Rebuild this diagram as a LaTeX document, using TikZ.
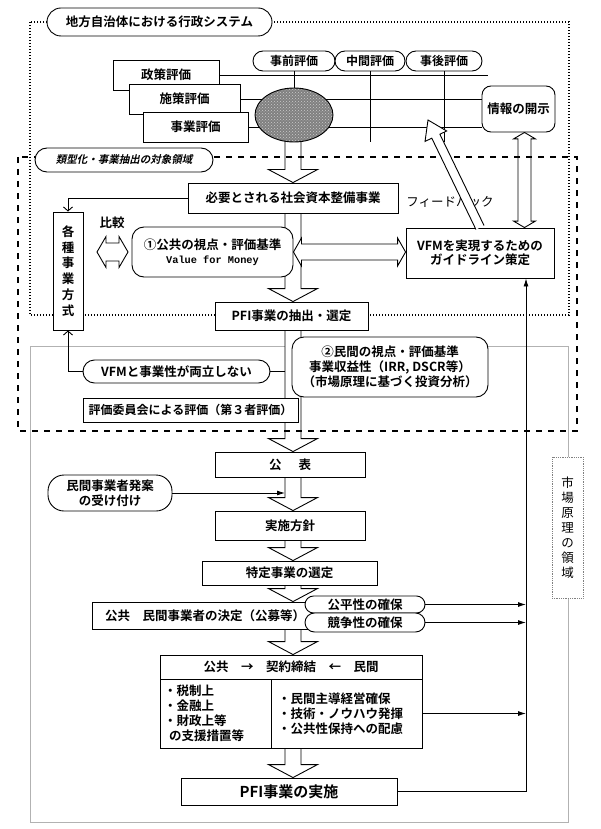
\documentclass[tikz,border=0pt]{standalone}
\usepackage{fontspec}
\setmainfont{Noto Sans CJK JP}[BoldFont={Noto Sans CJK JP Bold}]
\setmonofont{Liberation Mono}
\newfontfamily\slfont{Noto Sans CJK JP Bold}[FakeSlant=0.22]
\usetikzlibrary{shapes.geometric,arrows.meta,calc,patterns}
\pgfdeclarelayer{back}
\pgfdeclarelayer{mid}
\pgfdeclarelayer{dash}
\pgfsetlayers{back,mid,dash,main}
\tikzset{
  bx/.style={draw, fill=white, line width=0.9pt, inner sep=0pt, align=center,
    font=\bfseries\fontsize{12.5}{15}\selectfont},
  rbx/.style={bx, rounded corners=#1},
  rbx/.default=10pt,
  hollow/.style={fill=white, draw, line width=0.9pt, line join=miter},
  conn/.style={draw, line width=0.9pt},
  tipf/.style={-{Latex[length=8pt,width=5pt]}},
  tipo/.style={-{Straight Barb[length=4pt,width=9pt]}},
  dotbox/.style={draw, line width=1.1pt, dash pattern=on 1.1pt off 1.9pt},
  dashbox/.style={draw, line width=2pt, dash pattern=on 6pt off 6pt},
}
\newcommand\HollowDown[2]{%
  \filldraw[hollow] let \p3=(col), \p1=(#1), \p2=(#2) in
   (\x3-8pt,\y1) -- (\x3-8pt,\y2+13pt) -- (\x3-24.5pt,\y2+13pt) -- (\x3,\y2)
   -- (\x3+24.5pt,\y2+13pt) -- (\x3+8pt,\y2+13pt) -- (\x3+8pt,\y1);}
\begin{document}
\begin{tikzpicture}[x=1pt,y=-1pt]
\useasboundingbox (0,0) rectangle (600,829);
\coordinate (col) at (293,0);
\coordinate (shaftL) at (285,0);
\coordinate (bus) at (526,0);
\coordinate (dvx) at (524.5,0);
\coordinate (l1end) at (488,75);
\coordinate (ha1) at (97,252);
\coordinate (ha2) at (128,252);
\coordinate (fbt) at (428,120);

% ---------- nodes ----------
\node[rbx=14pt, minimum width=225pt, minimum height=28pt] (title) at (159.5,22) {地方自治体における行政システム};
\node[bx, minimum width=106pt, minimum height=30pt] (seisaku) at (166,75) {政策評価};
\node[bx, minimum width=111pt, minimum height=30pt] (shisaku) at (184.5,99) {施策評価};
\node[bx, minimum width=105pt, minimum height=30pt] (jigyo) at (195.5,127) {事業評価};
\node[rbx=10pt, minimum width=82pt, minimum height=20pt, font=\bfseries\fontsize{12}{14}\selectfont] (jizen) at (294,61) {事前評価};
\node[rbx=10pt, minimum width=70pt, minimum height=20pt, font=\bfseries\fontsize{12}{14}\selectfont] (chukan) at (370,61) {中間評価};
\node[rbx=10pt, minimum width=76pt, minimum height=20pt, font=\bfseries\fontsize{12}{14}\selectfont] (jigo) at (444,61) {事後評価};
\node[ellipse, draw, fill=black!50, line width=0.9pt, minimum width=78pt, minimum height=54pt, inner sep=0pt] (ell) at (294,115) {};
\fill[pattern=crosshatch dots, pattern color=white!80!black] (ell.center) ellipse [x radius=38pt, y radius=26pt];
\node[rbx=9pt, minimum width=73pt, minimum height=46pt] (joho) at (518.5,109) {情報の開示};

\node[bx, minimum width=210pt, minimum height=30pt] (need) at (293,198) {必要とされる社会資本整備事業};
\node[bx, minimum width=30pt, minimum height=118pt, font=\bfseries\fontsize{12.5}{15.8}\selectfont] (kakushu) at (68,271) {各\\種\\事\\業\\方\\式};
\node[font=\bfseries\fontsize{12.5}{15}\selectfont, inner sep=0pt] (hikaku) at (112,223) {比較};
\node[rbx=12pt, minimum width=161pt, minimum height=50pt, font=\bfseries\fontsize{12.5}{14}\selectfont] (kokyo1) at (212.5,252) {①公共の視点・評価基準\\{\ttfamily\bfseries\fontsize{10.3}{12}\selectfont Value for Money}};
\node[bx, minimum width=148pt, minimum height=50pt, font=\bfseries\fontsize{12.5}{14.5}\selectfont] (vfm) at (480,253) {VFMを実現するための\\ガイドライン策定};
\node[font=\fontsize{12.5}{15}\selectfont, inner sep=0pt] (fb) at (450,202) {フィードバック};
\node[bx, minimum width=153pt, minimum height=28pt] (pfi) at (291.5,316) {PFI事業の抽出・選定};
\node[rbx=12pt, minimum width=196pt, minimum height=60pt] (kokyo2) at (390,367) {②民間の視点・評価基準\\事業収益性（IRR, DSCR等）\\（市場原理に基づく投資分析）};
\node[rbx=11.5pt, minimum width=187pt, minimum height=23pt] (ryoritsu) at (176.5,371.5) {VFMと事業性が両立しない};
\node[bx, minimum width=215pt, minimum height=24pt, font=\bfseries\fontsize{12}{14}\selectfont] (hyoka) at (190.5,410) {評価委員会による評価（第３者評価）};
\node[rbx=12pt, minimum width=178pt, minimum height=24pt, font=\slfont\fontsize{10.5}{12}\selectfont] (ryokei) at (124,160) {類型化・事業抽出の対象領域};

\node[bx, minimum width=150pt, minimum height=25pt] (kohyo) at (290,464.5) {公\hspace{17pt}表};
\node[rbx=16pt, minimum width=124pt, minimum height=36pt] (minkan) at (110,493) {民間事業者発案\\の受け付け};
\node[bx, minimum width=150pt, minimum height=29pt] (hoshin) at (290,525.5) {実施方針};
\node[bx, minimum width=175pt, minimum height=24pt] (tokutei) at (289.5,573) {特定事業の選定};
\node[bx, minimum width=226pt, minimum height=27pt] (kettei) at (205,615.5) {公共　民間事業者の決定（公募等）};
\node[rbx=8.5pt, minimum width=120pt, minimum height=17pt] (kohei) at (365,604.5) {公平性の確保};
\node[rbx=9.5pt, minimum width=120pt, minimum height=19pt] (kyoso) at (365,622.5) {競争性の確保};
\node[bx, minimum width=262pt, minimum height=24pt] (chead) at (291,667) {公共　→　契約締結　←　民間};
\node[bx, minimum width=111pt, minimum height=69pt, text width=103pt, align=left] (cleft) at (215.5,713.5) {・税制上\\・金融上\\・財政上等\\\hspace*{5pt}の支援措置等};
\node[bx, minimum width=151pt, minimum height=69pt, text width=137pt, align=left] (cright) at (346.5,713.5) {・民間主導経営確保\\・技術・ノウハウ発揮\\・公共性保持への配慮};
\node[bx, minimum width=216pt, minimum height=27pt, font=\bfseries\fontsize{15}{17}\selectfont] (pfiexec) at (289,791.5) {PFI事業の実施};
\node[draw=gray, densely dotted, fill=white, line width=0.8pt, minimum width=31pt, minimum height=141pt, inner sep=0pt, align=center, font=\fontsize{12.5}{15}\selectfont] (shijo) at (567.5,527.5) {市\\場\\原\\理\\の\\領\\域};

% ---------- background frames and lines ----------
\begin{pgfonlayer}{back}
  \draw[gray!60, line width=1pt] (30,346) rectangle (568,822);
  \draw[dotbox] (30,22) rectangle (569,315);
  \draw[conn] (seisaku.east) -- (l1end);
  \draw[conn] (shisaku.east) -- (shisaku.east -| joho.west);
  \draw[conn] (jigyo.east) -- (jigyo.east -| joho.west);
  \draw[conn] (jizen.south) -- (jizen.south |- ell.center);
  \draw[conn] (chukan.south) -- (chukan.south |- jigyo.south);
  \draw[conn] (jigo.south) -- (jigo.south |- jigyo.south);
\end{pgfonlayer}

% ---------- hollow arrows ----------
\begin{pgfonlayer}{mid}
  \HollowDown{ell.center}{need.north}
  \HollowDown{need.south}{pfi.north}
  \HollowDown{pfi.south}{kohyo.north}
  \HollowDown{kohyo.south}{hoshin.north}
  \HollowDown{hoshin.south}{tokutei.north}
  \HollowDown{tokutei.south}{kettei.north}
  \HollowDown{kettei.south}{chead.north}
  \HollowDown{cleft.south}{pfiexec.north}
  \filldraw[hollow] let \p3=(dvx), \p1=(joho.south), \p2=(vfm.north) in
    (\x3,\y1) -- (\x3+11pt,\y1-6.5pt) -- (\x3+6.5pt,\y1-6.5pt) -- (\x3+6.5pt,\y2+6.5pt)
    -- (\x3+11pt,\y2+6.5pt) -- (\x3,\y2) -- (\x3-11pt,\y2+6.5pt) -- (\x3-6.5pt,\y2+6.5pt)
    -- (\x3-6.5pt,\y1-6.5pt) -- (\x3-11pt,\y1-6.5pt) -- cycle;
  \filldraw[hollow] let \p1=(ha1), \p2=(ha2) in
    (\x1,\y1) -- (\x1+9pt,\y1+15.5pt) -- (\x1+9pt,\y1+9pt) -- (\x2-9pt,\y1+9pt)
    -- (\x2-9pt,\y1+15.5pt) -- (\x2,\y1) -- (\x2-9pt,\y1-15.5pt) -- (\x2-9pt,\y1-9pt)
    -- (\x1+9pt,\y1-9pt) -- (\x1+9pt,\y1-15.5pt) -- cycle;
\end{pgfonlayer}

\begin{pgfonlayer}{dash}
  \draw[dashbox] (18,157) rectangle (577,431);
\end{pgfonlayer}

% ---------- arrows on top ----------
\filldraw[hollow] let \p1=(kokyo1.east), \p2=(vfm.west) in
  (\x1,\y1) -- (\x1+8pt,\y1+14pt) -- (\x1+8pt,\y1+8pt) -- (\x2-8pt,\y1+8pt)
  -- (\x2-8pt,\y1+14pt) -- (\x2,\y1) -- (\x2-8pt,\y1-14pt) -- (\x2-8pt,\y1-8pt)
  -- (\x1+8pt,\y1-8pt) -- (\x1+8pt,\y1-14pt) -- cycle;
\coordinate (fbb) at ($(fbt)!18pt!(vfm.north)$);
\filldraw[hollow]
  ($(vfm.north)!4.5pt!90:(fbt)$) -- ($(fbb)!4.5pt!-90:(vfm.north)$)
  -- ($(fbb)!12pt!-90:(vfm.north)$) -- (fbt) -- ($(fbb)!12pt!90:(vfm.north)$)
  -- ($(fbb)!4.5pt!90:(vfm.north)$) -- ($(vfm.north)!4.5pt!-90:(fbt)$);

\draw[conn, tipo] (need.west) -| (kakushu.north);
\draw[conn, tipo] (ryoritsu.west) -| (kakushu.south);
\draw[conn] (ryoritsu.east) -- (ryoritsu.east -| shaftL);
\draw[conn, tipf] (minkan.east) -- (minkan.east -| shaftL);
\draw[conn, tipf] (kohei.east) -- (kohei.east -| bus);
\draw[conn, tipf] (kyoso.east) -- (kyoso.east -| bus);
\draw[conn, tipf] (cright.east) -- (cright.east -| bus);
\draw[conn, tipf] (pfiexec.east) -- (pfiexec.east -| bus) -- (bus |- vfm.south);
\end{tikzpicture}
\end{document}
